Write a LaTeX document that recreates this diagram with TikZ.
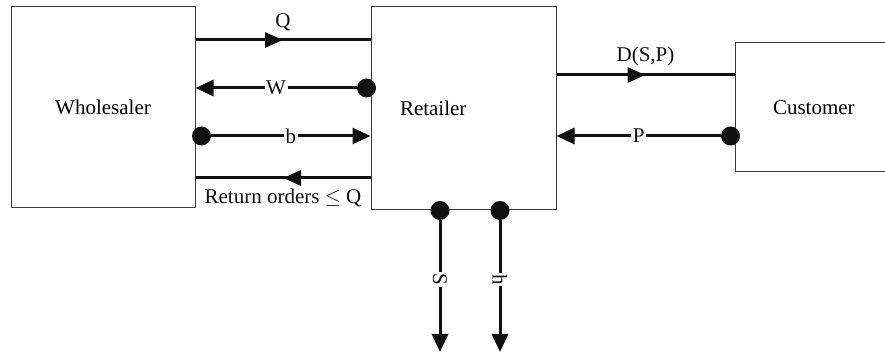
\documentclass[tikz,border=0pt]{standalone}
\usepackage{fontspec}
\setmainfont{Liberation Serif}
\usepackage{amssymb}
\usepackage{xcolor}
\definecolor{boxLine}{HTML}{3A3A3A}
\definecolor{flowLine}{HTML}{111111}
\usetikzlibrary{arrows.meta,decorations.markings}

\begin{document}
\begin{tikzpicture}[x=1pt, y=1pt,
    font=\fontsize{21}{25}\selectfont,
    party/.style={rectangle, draw=boxLine, line width=1pt, inner sep=0pt},
    flow/.style={flowLine, line width=3pt},
    tip/.style={-{Triangle[length=18pt, width=16pt]}},
    midtip/.style={postaction={decorate}, decoration={markings,
      mark=at position #1 with {\arrow{Triangle[length=18pt, width=15pt]}}}},
    dot/.style={circle, fill=flowLine, minimum size=19pt, inner sep=0pt},
    onlbl/.style={fill=white, inner sep=1.5pt}]
  \useasboundingbox (0,0) rectangle (885,355);
  \node[party, minimum width=184pt, minimum height=201pt] (whole) at (103,247.5) {Wholesaler};
  \node[party, minimum width=185pt, minimum height=203pt, text width=165pt, align=left] (ret) at (463.5,246.5) {\hspace{19pt}Retailer};
  \node[party, minimum width=160pt, minimum height=129pt, text width=140pt, align=left] (cust) at (815,247.5) {\hspace{28pt}Customer};
  % wholesaler <-> retailer
  \draw[flow, midtip=0.5] (whole.east |- 0,315) -- node[above=4pt] (lQ) {Q} (ret.west |- 0,315);
  \node[dot] (dW) at ([xshift=-4pt]ret.west |- 0,267) {};
  \draw[flow, tip] (dW) -- node[onlbl] (lW) {W} (whole.east |- 0,267);
  \node[dot] (dB) at ([xshift=6pt]whole.east |- 0,219) {};
  \draw[flow, tip] (dB) -- node[onlbl] (lB) {b} (ret.west |- 0,219);
  \draw[flow, midtip=0.5] (ret.west |- 0,177) -- node[below=6pt] (lR) {Return orders $\leq$ Q} (whole.east |- 0,177);
  % retailer <-> customer
  \draw[flow, midtip=0.5] (ret.east |- 0,280) -- node[above=4pt] (lD) {D(S,P)} (cust.west |- 0,280);
  \node[dot] (dP) at ([xshift=-4pt]cust.west |- 0,219) {};
  \draw[flow, tip] (dP) -- node[onlbl] (lP) {P} (ret.east |- 0,219);
  % costs
  \coordinate (endS) at (440,3);
  \coordinate (endH) at (500,3);
  \node[dot] (dS) at (ret.south -| endS) {};
  \node[dot] (dH) at (ret.south -| endH) {};
  \draw[flow, tip] (dS) -- node[onlbl, rotate=-90, pos=0.45] (lS) {S} (endS);
  \draw[flow, tip] (dH) -- node[onlbl, rotate=-90, pos=0.45] (lH) {h} (endH);
\end{tikzpicture}
\end{document}
